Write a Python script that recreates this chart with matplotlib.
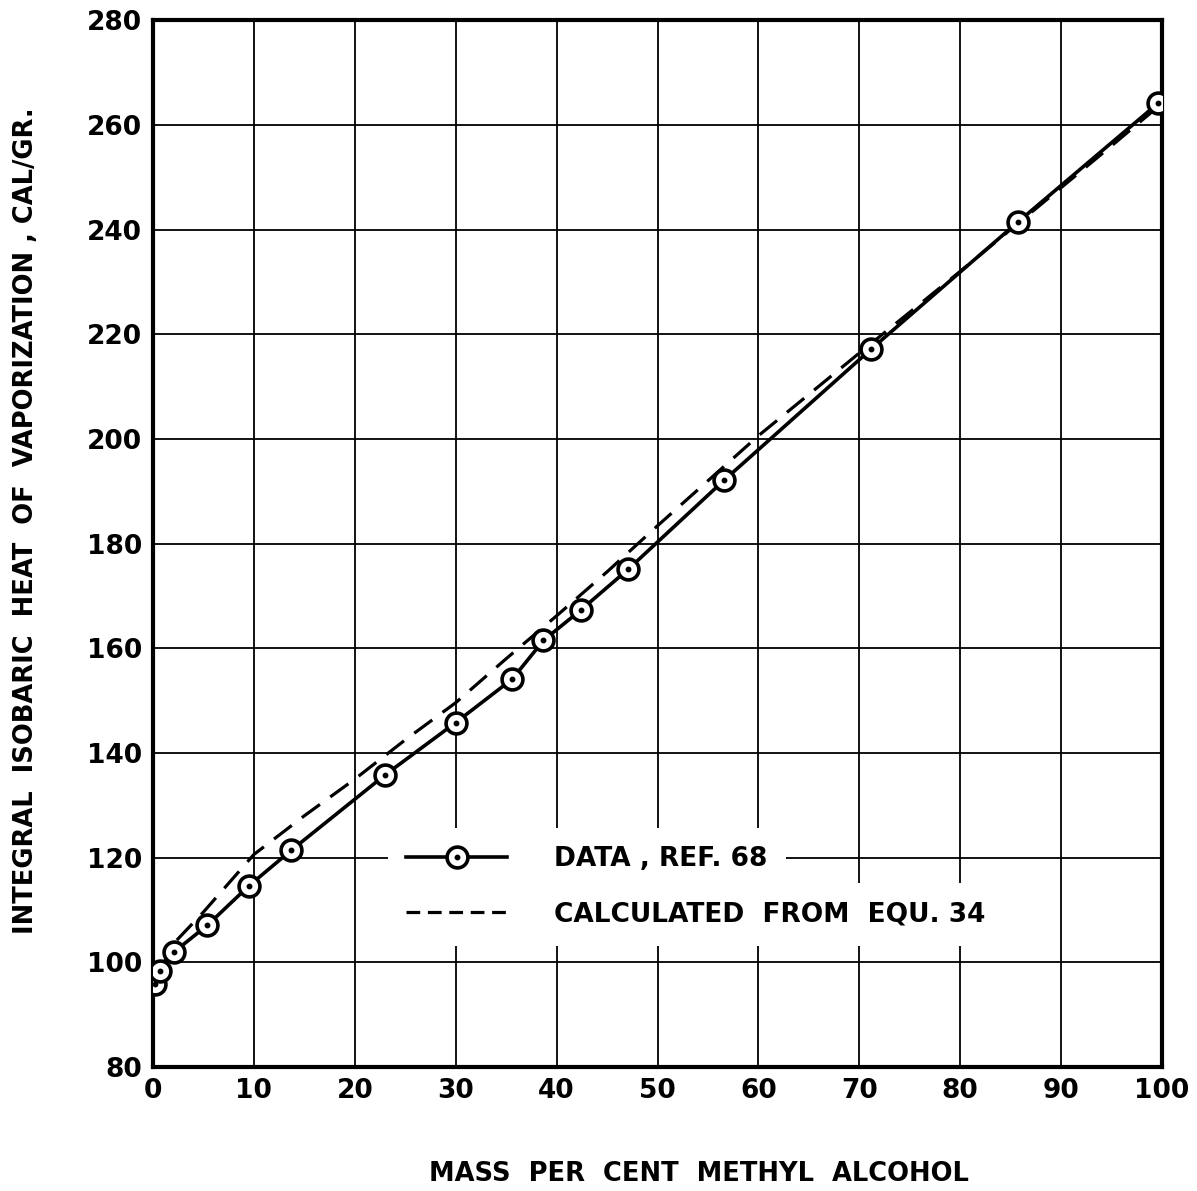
import matplotlib.pyplot as plt
from matplotlib.lines import Line2D
from matplotlib.legend_handler import HandlerTuple

# measured points, ref. 68
mass_pct = [0.2, 0.7, 2.1, 5.4, 9.5, 13.7, 23.0, 30.0, 35.6, 38.7, 42.4, 47.1, 56.6, 71.2, 85.7, 99.6]
heat_data = [95.8, 98.4, 102.0, 107.1, 114.6, 121.4, 135.8, 145.8, 154.1, 161.5, 167.3, 175.1, 192.1, 217.2, 241.4, 264.1]

# curve calculated from equ. 34
calc_pct = [0.7, 2, 5, 10, 15, 20, 25, 30, 35, 40, 45, 50, 55, 60, 65, 70, 75, 80, 85, 90, 95, 100]
calc_heat = [98.4, 103.5, 109.6, 120.6, 128.0, 135.0, 142.5, 149.6, 158.0, 166.2, 174.6, 183.4, 192.0, 200.6, 208.5, 216.4, 224.2, 232.0, 240.0, 248.0, 256.0, 264.1]

x_ticks = list(range(0, 101, 10))
y_ticks = list(range(80, 281, 20))

plt.rcParams['font.family'] = ['DejaVu Sans']
plt.rcParams['font.weight'] = 'bold'

fig = plt.figure(figsize=(11.97, 11.91), dpi=100)
ax = fig.add_axes([0.1278, 0.1041, 0.843, 0.879])

ax.plot(calc_pct, calc_heat, color='black', lw=2.3, dashes=(7, 4), zorder=3)
ax.plot(mass_pct, heat_data, color='black', lw=2.6, marker='o', markersize=15,
        mfc='white', mec='black', mew=2.6, zorder=4)
ax.plot(mass_pct, heat_data, ls='none', marker='o', markersize=3.2, color='black', zorder=5)

ax.set_xlim(0, 100)
ax.set_ylim(80, 280)
ax.set_xticks(x_ticks)
ax.set_yticks(y_ticks)
ax.grid(True, color='black', lw=1.3)
ax.set_axisbelow(True)
ax.tick_params(length=0, pad=8, labelsize=19)
for s in ax.spines.values():
    s.set_linewidth(3)

ax.set_xlabel('MASS  PER  CENT  METHYL  ALCOHOL', fontsize=18.5, fontweight='bold')
ax.set_ylabel('INTEGRAL  ISOBARIC  HEAT  OF  VAPORIZATION , CAL/GR.', fontsize=18.5,
              fontweight='bold')
ax.xaxis.set_label_coords(0.541, -0.090)
ax.yaxis.set_label_coords(-0.113, 0.522)

# legend proxies, one legend per row so each white box has its own width
h_line = Line2D([], [], color='black', lw=2.6, marker='o', markersize=15,
                mfc='white', mec='black', mew=2.6)
h_dot = Line2D([], [], ls='none', marker='o', markersize=3.2, color='black')
h_dash = Line2D([], [], color='black', lw=2.3, dashes=(4.3, 2.4))

leg_kw = dict(loc='upper left', fontsize=19, handlelength=3.8, handletextpad=1.8,
              borderpad=0.7, borderaxespad=0, frameon=True, framealpha=1,
              edgecolor='white', fancybox=False)
leg1 = ax.legend([(h_line, h_dot)], ['DATA , REF. 68'],
                 handler_map={tuple: HandlerTuple(ndivide=1, pad=0)},
                 bbox_to_anchor=(0.2329, 0.2283), **leg_kw)
leg1.get_frame().set_linewidth(0)
ax.add_artist(leg1)
leg2 = ax.legend([h_dash], ['CALCULATED  FROM  EQU. 34'],
                 bbox_to_anchor=(0.2329, 0.1757), **leg_kw)
leg2.get_frame().set_linewidth(0)

fig.savefig('out.png', dpi=100)
